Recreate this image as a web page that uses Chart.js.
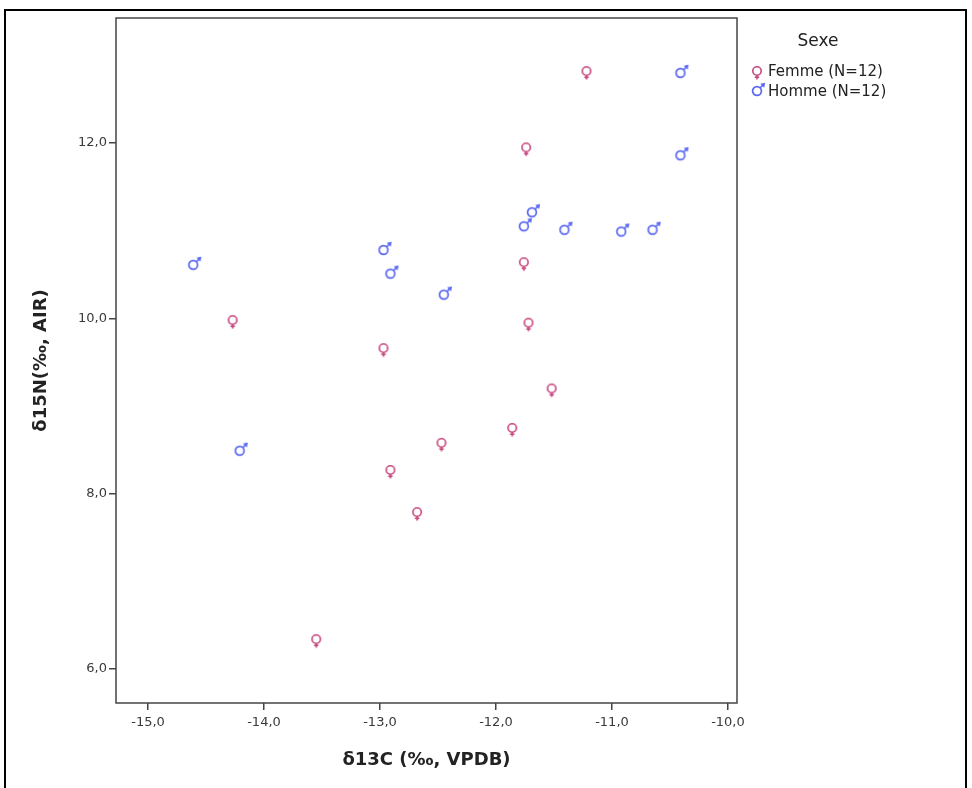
<!DOCTYPE html>
<html>
<head>
<meta charset="utf-8">
<script src="https://cdn.jsdelivr.net/npm/chart.js@4.4.0/dist/chart.umd.min.js"></script>
<style>
  html, body { margin: 0; padding: 0; background: #fff; }
  #wrap { position: relative; width: 972px; height: 788px; }
</style>
</head>
<body>
<div id="wrap"><canvas id="iso_chart"></canvas></div>
<script>
// isotope values per individual: d13C (x) and d15N (y)
var femmeC = [-11.22, -11.74, -11.76, -14.27, -11.72, -12.97, -11.52, -12.47, -11.86, -12.91, -12.68, -13.55];
var femmeN = [12.82, 11.95, 10.64, 9.98, 9.95, 9.66, 9.20, 8.58, 8.75, 8.27, 7.79, 6.34];
var hommeC = [-10.41, -10.41, -11.69, -11.76, -11.41, -10.92, -10.65, -12.97, -12.91, -14.61, -12.45, -14.21];
var hommeN = [12.80, 11.86, 11.21, 11.05, 11.01, 10.99, 11.01, 10.78, 10.51, 10.61, 10.27, 8.49];

var seriesLabels = ["Femme (N=12)", "Homme (N=12)"];
var legendTitle = "Sexe";
var xTitle = "\u03b413C (\u2030, VPDB)";
var yTitle = "\u03b415N(\u2030, AIR)";

var pink = "#c6467f";
var blue = "#5a68f2";
var font = "'DejaVu Sans', Verdana, sans-serif";

// female sign, circle centred on the canvas
function femaleSign(color) {
    var c = document.createElement("canvas");
    c.width = 12; c.height = 20;
    var g = c.getContext("2d");
    g.strokeStyle = color; g.fillStyle = color; g.lineWidth = 1.6;
    g.beginPath(); g.arc(6, 10, 4.2, 0, Math.PI * 2); g.stroke();
    g.beginPath(); g.moveTo(6, 14); g.lineTo(6, 18.5); g.stroke();
    g.beginPath(); g.moveTo(3.8, 16.2); g.lineTo(8.2, 16.2); g.stroke();
    return c;
}

// male sign, circle centred, arrow to upper right
function maleSign(color) {
    var c = document.createElement("canvas");
    c.width = 22; c.height = 22;
    var g = c.getContext("2d");
    g.strokeStyle = color; g.fillStyle = color; g.lineWidth = 1.7;
    g.beginPath(); g.arc(11, 11, 4.4, 0, Math.PI * 2); g.stroke();
    g.beginPath(); g.moveTo(14, 8); g.lineTo(17.5, 4.5); g.stroke();
    g.beginPath(); g.moveTo(19.2, 2.8); g.lineTo(14.3, 3.8); g.lineTo(18.2, 7.7); g.closePath(); g.fill();
    return c;
}

var femaleImg = femaleSign(pink);
var maleImg = maleSign(blue);

function toPoints(xs, ys) {
    return xs.map(function (x, i) { return { x: x, y: ys[i] }; });
}

function fmt(v) {
    return v.toFixed(1).replace(".", ",");
}

// outer frame, plot box and legend
var decorations = {
    id: "decorations",
    beforeDraw: function (chart) {
        var ctx = chart.ctx;
        ctx.save();
        ctx.fillStyle = "#fff";
        ctx.fillRect(0, 0, chart.width, chart.height);
        ctx.strokeStyle = "#000";
        ctx.lineWidth = 2;
        ctx.beginPath();
        ctx.moveTo(5, 788); ctx.lineTo(5, 10); ctx.lineTo(966, 10); ctx.lineTo(966, 788);
        ctx.stroke();
        ctx.restore();
    },
    afterDraw: function (chart) {
        var ctx = chart.ctx;
        var a = chart.chartArea;
        ctx.save();
        ctx.strokeStyle = "#444";
        ctx.lineWidth = 1.5;
        ctx.strokeRect(a.left, a.top, a.right - a.left, a.bottom - a.top);

        ctx.fillStyle = "#222";
        ctx.textAlign = "center";
        ctx.textBaseline = "middle";
        ctx.font = "17px " + font;
        ctx.fillText(legendTitle, 818, 42);

        ctx.textAlign = "left";
        ctx.font = "15px " + font;
        ctx.drawImage(femaleImg, 757 - 6, 71 - 10);
        ctx.fillText(seriesLabels[0], 768, 72);
        ctx.drawImage(maleImg, 757 - 11, 91 - 11);
        ctx.fillText(seriesLabels[1], 768, 92);
        ctx.restore();
    }
};

var isoChart = new Chart("iso_chart", {
    type: "scatter",
    data: {
        datasets: [
            {
                label: seriesLabels[0],
                data: toPoints(femmeC, femmeN),
                pointStyle: femaleImg,
                borderColor: pink,
                backgroundColor: pink,
            },
            {
                label: seriesLabels[1],
                data: toPoints(hommeC, hommeN),
                pointStyle: maleImg,
                borderColor: blue,
                backgroundColor: blue,
            },
        ],
    },
    options: {
        responsive: true,
        maintainAspectRatio: false,
        animation: false,
        events: [],
        layout: {
            padding: { top: 18, right: 235, bottom: 0, left: 0 },
        },
        plugins: {
            legend: { display: false },
            tooltip: { enabled: false },
        },
        scales: {
            x: {
                type: "linear",
                min: -15.276,
                max: -9.922,
                afterFit: function (s) { s.height = 85; },
                border: { display: false },
                grid: { drawOnChartArea: false, tickLength: 7, color: "#444", lineWidth: 1.5 },
                ticks: {
                    stepSize: 1,
                    includeBounds: false,
                    maxRotation: 0,
                    padding: 5,
                    color: "#3a3a3a",
                    font: { family: font, size: 13 },
                    callback: function (v) { return fmt(v); },
                },
                title: {
                    display: true,
                    text: xTitle,
                    color: "#222",
                    font: { family: font, size: 18, weight: "bold" },
                    padding: { top: 0, bottom: 17 },
                },
            },
            y: {
                type: "linear",
                min: 5.612,
                max: 13.426,
                afterFit: function (s) { s.width = 116; },
                border: { display: false },
                grid: { drawOnChartArea: false, tickLength: 7, color: "#444", lineWidth: 1.5 },
                ticks: {
                    stepSize: 2,
                    includeBounds: false,
                    padding: 2,
                    color: "#3a3a3a",
                    font: { family: font, size: 13 },
                    callback: function (v) { return fmt(v); },
                },
                title: {
                    display: true,
                    text: yTitle,
                    color: "#222",
                    font: { family: font, size: 18, weight: "bold" },
                    padding: { top: 31, bottom: 0 },
                },
            },
        },
    },
    plugins: [decorations],
});
</script>
</body>
</html>
